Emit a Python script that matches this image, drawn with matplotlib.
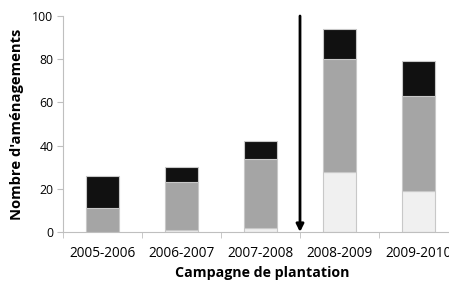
import matplotlib
matplotlib.use("Agg")
import matplotlib.pyplot as plt
import numpy as np

categories = ["2005-2006", "2006-2007", "2007-2008", "2008-2009", "2009-2010"]
light = [0, 1, 2, 28, 19]
gray = [11, 22, 32, 52, 44]
black = [15, 7, 8, 14, 16]

plt.rcParams['font.family'] = ['Open Sans', 'DejaVu Sans']

fig = plt.figure(figsize=(4.49, 2.81), dpi=100)
ax = fig.add_axes([63/449, 49/281, 395/449, 216/281])

x = np.arange(len(categories))
w = 0.41
edge = "#c8c8c8"
ax.bar(x, light, w, color="#f0f0f0", edgecolor=edge, linewidth=0.8)
ax.bar(x, gray, w, bottom=light, color="#a5a5a5", edgecolor=edge, linewidth=0.8)
b2 = np.array(light) + np.array(gray)
ax.bar(x, black, w, bottom=b2, color="#111111", edgecolor=edge, linewidth=0.8)

ax.set_xlim(-0.5, 4.5)
ax.set_ylim(0, 100)
ax.set_yticks(range(0, 101, 20))
ax.set_xticks(x)
ax.set_xticklabels(categories, fontsize=9.8)
ax.set_xticks(np.arange(-0.5, 5, 1), minor=True)
ax.tick_params(axis='x', which='major', length=0, pad=10)
ax.tick_params(axis='x', which='minor', length=4, color="#bfbfbf", direction='out')
ax.tick_params(axis='y', length=4, color="#bfbfbf", labelsize=8.8, pad=3)
for s in ['top', 'right']:
    ax.spines[s].set_visible(False)
for s in ['left', 'bottom']:
    ax.spines[s].set_color("#bfbfbf")
    ax.spines[s].set_linewidth(0.8)

ax.annotate("", xy=(2.5, 0), xytext=(2.5, 100),
            arrowprops=dict(arrowstyle="-|>", color="black", lw=2, mutation_scale=11,
                            shrinkA=0, shrinkB=0))

ax.set_ylabel("Nombre d'aménagements", fontsize=10.6, fontweight='bold', labelpad=6)
fig.text(262/449, 1 - 273/281, "Campagne de plantation", fontsize=10.2, fontweight='bold',
         ha='center', va='center')

fig.savefig("out.png", dpi=100)
